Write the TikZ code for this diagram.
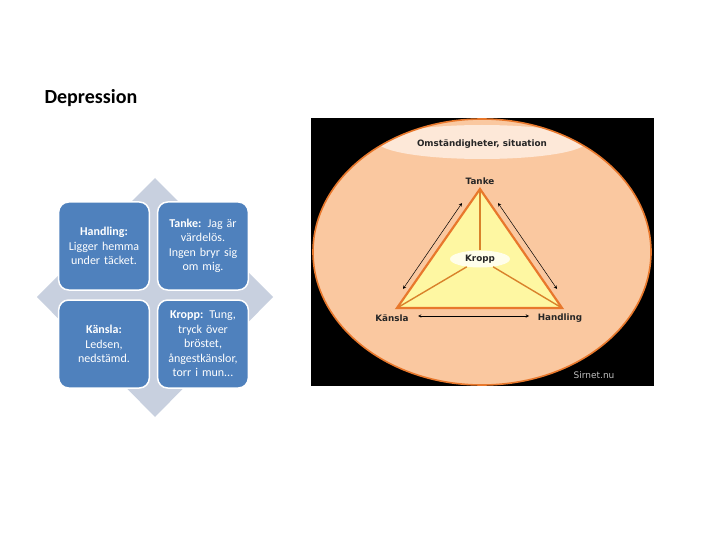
\documentclass[tikz,border=0pt]{standalone}
\usepackage{fontspec}
\setmainfont{Carlito}
\newfontfamily\verd{DejaVu Sans}
\usepackage{tikz}
\usepackage{xcolor}
\usetikzlibrary{shapes.geometric}

\begin{document}
\begin{tikzpicture}[x=1pt,y=-1pt,
  quad/.style={rectangle,rounded corners=10pt,fill=qblue,draw=white,line width=1.5pt,
    minimum width=90pt,minimum height=88pt,text width=84pt,align=center,text=white,
    font=\fontsize{12}{14.5}\selectfont},
  tri/.style={font=\verd\bfseries\fontsize{8.8}{10}\selectfont,text=black!85},
  twoway/.style={<->,>=stealth,line width=0.5pt,black}]
\definecolor{qblue}{HTML}{4F81BD}
\definecolor{qdiam}{HTML}{C8D0DF}
\definecolor{peach}{HTML}{FAC8A0}
\definecolor{rim}{HTML}{E8782C}
\definecolor{spoke}{HTML}{D9822B}
\definecolor{lemon}{HTML}{FEF7A2}
\definecolor{mist}{HTML}{FDE8D8}
\useasboundingbox (0,0) rectangle (720,540);
\node[anchor=west,font=\bfseries\fontsize{20}{22}\selectfont] (title) at (41,98) {Depression};
% left part: diamond with four boxes
\fill[qdiam] (155,178) -- (273,297) -- (155,417) -- (37,297) -- cycle;
  \foreach \nm/\px/\py/\txt in {
    hand/104/246/{\textbf{Handling:}\\Ligger hemma\\under täcket.},
    tank/203/246/{\textbf{Tanke:} Jag är\\värdelös.\\Ingen bryr sig\\om mig.},
    kans/104/344/{\textbf{Känsla:}\\Ledsen,\\nedstämd.},
    krop/203/344/{\textbf{Kropp:} Tung,\\tryck över\\bröstet,\\ångestkänslor,\\torr i mun...}}
  {  \node [quad] (\nm) at (\px,\py) {\txt};}
% right part: picture on black
\fill[black] (311,118) rectangle (654,386);
\begin{scope}
\clip (482,252) ellipse [x radius=169,y radius=133];
\fill[peach] (482,252) ellipse [x radius=169,y radius=133];
\fill[mist] (482,142) ellipse [x radius=104,y radius=17];
\end{scope}
\draw[rim,line width=1.6pt] (482,252) ellipse [x radius=169,y radius=133];
\node[tri] (omst) at (482,144) {Omständigheter, situation};
\coordinate (tv) at (480,189);
\coordinate (kv) at (397,308);
\coordinate (hv) at (562,308);
\fill[lemon] (tv) -- (hv) -- (kv) -- cycle;
\node[ellipse,fill=yellow!8,minimum width=60pt,minimum height=17pt,inner sep=0pt] (kropp) at (480,259) {};
\foreach \v in {tv,kv,hv}
  {  \draw[spoke,line width=1.4pt] (kropp) -- (\v);}
\draw[rim,line width=2.2pt,line join=miter] (tv) -- (hv) -- (kv) -- cycle;
\node[tri] at (kropp) {Kropp};
\node[tri] (tlab) at (480,181) {Tanke};
\node[tri] (klab) at (392,318) {Känsla};
\node[tri] (hlab) at (560,318) {Handling};
\coordinate (a1) at (403,289); \coordinate (a2) at (462,203);
\coordinate (b1) at (498,203); \coordinate (b2) at (557,289);
\coordinate (c1) at (418,316); \coordinate (c2) at (529,316);
\draw[twoway] (a1) -- (a2);
\draw[twoway] (b1) -- (b2);
\draw[twoway] (c1) -- (c2);
\node[font=\verd\fontsize{9}{10}\selectfont,text=black!25] (sirnet) at (594,375) {Sirnet.nu};
\end{tikzpicture}
\end{document}
